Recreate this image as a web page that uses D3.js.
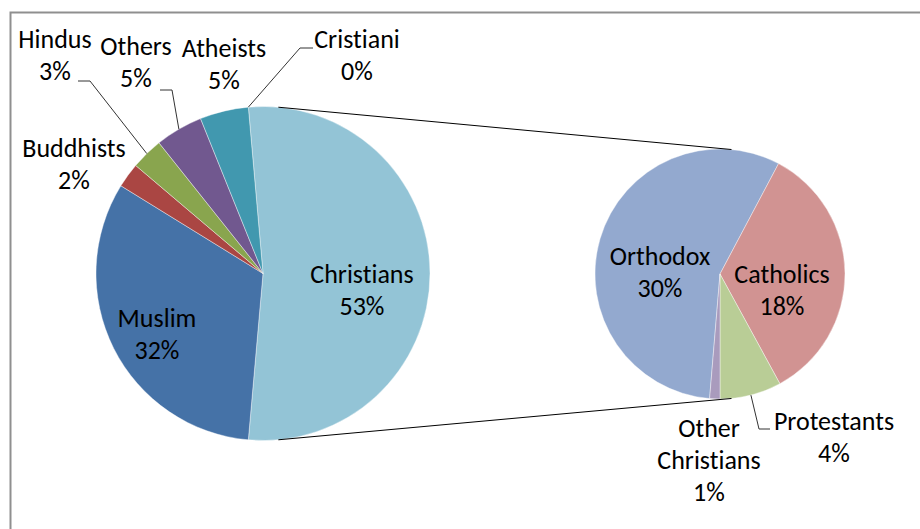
<!DOCTYPE html>
<html lang="en">
  <head>
    <meta charset="UTF-8" />
    <title>Pie of pie</title>
    <style>
      body { margin: 0; background: #fff; }
      text {
        font-family: Carlito, Lato, sans-serif;
        font-size: 26px;
        font-variant-ligatures: none;
        font-feature-settings: "liga" 0, "clig" 0;
        fill: #000;
      }
    </style>
  </head>
  <body>
    <svg width="920" height="529"></svg>
    <script src="https://d3js.org/d3.v7.min.js"></script>
    <script>
      // main pie
      var mainNames = ["Muslim", "Buddhists", "Hindus", "Others", "Atheists", "Cristiani"];
      var mainValues = [32.4, 2.4, 3.1, 4.6, 4.7, 0];
      var mainColors = ["#4572A7", "#AA4643", "#89A54E", "#71588F", "#4198AF", "#DB843D"];

      // second pie (split of Christians)
      var subNames = ["Orthodox", "Catholics", "Protestants", "Other Christians"];
      var subValues = [29.8, 18.1, 4.2, 0.7];
      var subColors = ["#93A9CF", "#D19392", "#B9CD96", "#A99BBD"];

      var combinedName = "Christians";
      var combinedColor = "#93C4D6";

      var svg = d3.select("svg");

      // frame
      svg.append("rect")
        .attr("x", 10.5).attr("y", 12.5)
        .attr("width", 940).attr("height", 540)
        .attr("fill", "none")
        .attr("stroke", "#8f8f8f")
        .attr("stroke-width", 2);

      var c1 = { x: 263, y: 273.5, r: 167 };
      var c2 = { x: 720, y: 274, r: 125 };

      var subTotal = d3.sum(subValues);
      var total = d3.sum(mainValues) + subTotal;

      // main data: combined slice first, centred at 3 o'clock
      var mainData = [{ name: combinedName, value: subTotal, color: combinedColor }]
        .concat(mainNames.map(function(n, i) {
          return { name: n, value: mainValues[i], color: mainColors[i] };
        }));
      var span = subTotal / total * 2 * Math.PI;
      var start1 = Math.PI / 2 - span / 2;
      var pie1 = d3.pie().sort(null).value(function(d) { return d.value; })
        .startAngle(start1).endAngle(start1 + 2 * Math.PI);
      var arcs1 = pie1(mainData);

      var subData = subNames.map(function(n, i) {
        return { name: n, value: subValues[i], color: subColors[i] };
      });
      // last slice (Other Christians) starts at 6 o'clock
      var start2 = Math.PI + subValues[3] / subTotal * 2 * Math.PI;
      var pie2 = d3.pie().sort(null).value(function(d) { return d.value; })
        .startAngle(start2).endAngle(start2 + 2 * Math.PI);
      var arcs2 = pie2(subData);

      var arc1 = d3.arc().innerRadius(0).outerRadius(c1.r);
      var arc2 = d3.arc().innerRadius(0).outerRadius(c2.r);

      svg.append("g")
        .attr("transform", "translate(" + c1.x + "," + c1.y + ")")
        .selectAll("path")
        .data(arcs1.filter(function(d) { return d.value > 0; }))
        .enter()
        .append("path")
        .attr("d", arc1)
        .attr("fill", function(d) { return d.data.color; })
        .attr("stroke", "#fff")
        .attr("stroke-width", 0.4);

      svg.append("g")
        .attr("transform", "translate(" + c2.x + "," + c2.y + ")")
        .selectAll("path")
        .data(arcs2)
        .enter()
        .append("path")
        .attr("d", arc2)
        .attr("fill", function(d) { return d.data.color; })
        .attr("stroke", "#fff")
        .attr("stroke-width", 0.4);

      // connector lines = outer tangents of both circles
      var dist = c2.x - c1.x;
      var phi = Math.acos((c1.r - c2.r) / dist);
      [-1, 1].forEach(function(s) {
        svg.append("line")
          .attr("x1", c1.x + c1.r * Math.cos(phi))
          .attr("y1", c1.y + s * c1.r * Math.sin(phi))
          .attr("x2", c2.x + c2.r * Math.cos(phi))
          .attr("y2", c2.y + s * c2.r * Math.sin(phi))
          .attr("stroke", "#000")
          .attr("stroke-width", 1);
      });

      // label layout: centre x, first baseline y
      var labelPos = {
        "Christians": [362, 283],
        "Muslim": [157, 327],
        "Buddhists": [74, 157],
        "Hindus": [55, 48],
        "Others": [136, 55],
        "Atheists": [224, 57],
        "Cristiani": [357, 48],
        "Orthodox": [660, 265],
        "Catholics": [782, 283],
        "Protestants": [834, 430],
        "Other Christians": [709, 437]
      };
      var leaders = {
        "Hindus": [[78, 81], [90, 81]],
        "Others": [[160, 90], [172, 90]],
        "Cristiani": [[313, 48], [300, 48]],
        "Protestants": [[770, 429], [759, 429]]
      };

      function edgePoint(d, c) {
        var a = (d.startAngle + d.endAngle) / 2;
        return [c.x + c.r * Math.sin(a), c.y - c.r * Math.cos(a)];
      }

      var line = d3.line();
      function drawLabels(arcs, c) {
        arcs.forEach(function(d) {
          var name = d.data.name;
          var pos = labelPos[name];
          var pct = Math.round(d.data.value / total * 100) + "%";
          var lines = name === "Other Christians" ? ["Other", "Christians", pct] : [name, pct];
          var t = svg.append("text")
            .attr("text-anchor", "middle");
          lines.forEach(function(l, i) {
            t.append("tspan").attr("x", pos[0]).attr("y", pos[1] + i * 32).text(l);
          });
          if (leaders[name]) {
            var pts = leaders[name].concat([edgePoint(d, c)]);
            svg.append("path")
              .attr("d", line(pts))
              .attr("fill", "none")
              .attr("stroke", "#333")
              .attr("stroke-width", 1);
          }
        });
      }
      drawLabels(arcs1, c1);
      drawLabels(arcs2, c2);
    </script>
  </body>
</html>
